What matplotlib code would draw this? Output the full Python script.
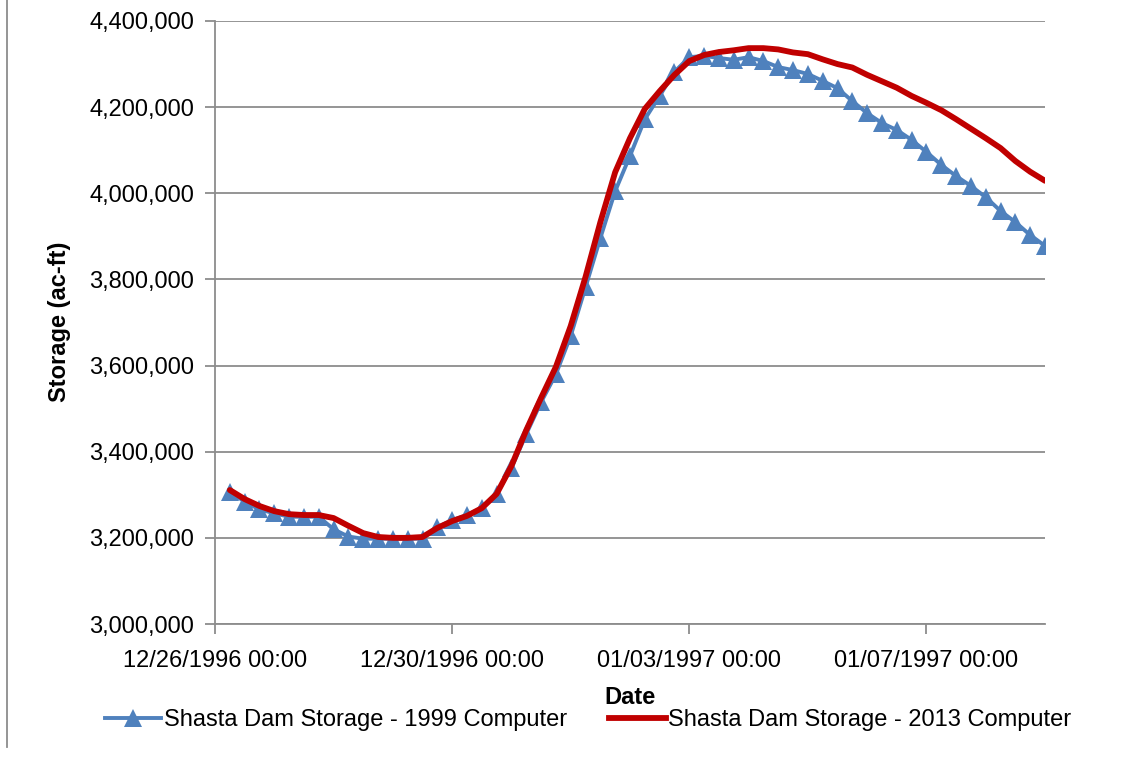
import matplotlib
matplotlib.use('Agg')
import matplotlib.pyplot as plt
import matplotlib.dates as mdates
import pandas as pd
from matplotlib.lines import Line2D

plt.rcParams['font.family'] = ['Liberation Sans Narrow', 'Liberation Sans', 'DejaVu Sans']

# 6-hourly readings, 12/26/1996 06:00 .. 01/09/1997 00:00
times = pd.date_range('1996-12-26 06:00', periods=56, freq='6h')

storage_1999 = [
    3307000, 3284000, 3266000, 3257000, 3249000, 3249000, 3249000, 3220000,
    3203000, 3198000, 3198000, 3198000, 3198000, 3198000, 3225000, 3241000,
    3253000, 3269000, 3302000, 3362000, 3441000, 3515000, 3580000, 3669000,
    3782000, 3896000, 4005000, 4087000, 4172000, 4226000, 4282000, 4316000,
    4319000, 4314000, 4310000, 4316000, 4307000, 4293000, 4286000, 4277000,
    4261000, 4244000, 4214000, 4186000, 4163000, 4147000, 4124000, 4096000,
    4066000, 4040000, 4017000, 3991000, 3959000, 3933000, 3903000, 3878000,
]

storage_2013 = [
    3311000, 3290000, 3274000, 3262000, 3255000, 3253000, 3253000, 3246000,
    3228000, 3211000, 3202000, 3200000, 3200000, 3202000, 3223000, 3239000,
    3251000, 3269000, 3302000, 3367000, 3450000, 3525000, 3597000, 3692000,
    3806000, 3933000, 4049000, 4128000, 4196000, 4237000, 4275000, 4307000,
    4321000, 4328000, 4332000, 4337000, 4337000, 4334000, 4327000, 4323000,
    4311000, 4300000, 4292000, 4275000, 4260000, 4245000, 4226000, 4210000,
    4193000, 4172000, 4150000, 4128000, 4105000, 4075000, 4050000, 4029000,
]

blue = '#4F81BD'
red = '#C00000'
fs = 17

fig = plt.figure(figsize=(11.47, 7.57), dpi=100)
ax = fig.add_axes([215/1147, 1-624/757, (1045-215)/1147, (624-21)/757])

ax.plot(times, storage_1999, color=blue, lw=2.8, marker='^', markersize=13,
        markeredgewidth=0, zorder=3)
ax.plot(times, storage_2013, color=red, lw=4.2, solid_joinstyle='round',
        solid_capstyle='round', zorder=4)

ax.set_xlim(pd.Timestamp('1996-12-26'), pd.Timestamp('1997-01-09'))
ax.set_ylim(3000000, 4400000)
ax.set_yticks(range(3000000, 4400001, 200000))
ax.yaxis.set_major_formatter(matplotlib.ticker.FuncFormatter(lambda v, p: f'{int(v):,}'))
ax.set_xticks(pd.date_range('1996-12-26', periods=4, freq='4D'))
ax.xaxis.set_major_formatter(mdates.DateFormatter('%m/%d/%Y %H:%M'))

ax.grid(axis='y', color='#8c8c8c', lw=1.3)
ax.set_axisbelow(True)
for s in ['top', 'right']:
    ax.spines[s].set_visible(False)
ax.spines['left'].set_color('#8c8c8c')
ax.spines['bottom'].set_color('#8c8c8c')
ax.spines['left'].set_linewidth(1.3)
ax.spines['bottom'].set_linewidth(1.3)
ax.tick_params(axis='both', colors='#8c8c8c', labelcolor='black', labelsize=fs,
               length=7, width=1.3)
ax.tick_params(axis='x', pad=12)
ax.tick_params(axis='y', pad=8)

fig.text(60/1147, 1-322/757, 'Storage (ac-ft)', rotation=90, ha='center',
         va='center', fontsize=fs, fontweight='bold')
fig.text(630/1147, 1-697/757, 'Date', ha='center', va='center',
         fontsize=fs, fontweight='bold')

handles = [
    Line2D([], [], color=blue, lw=2.8, marker='^', markersize=13, markeredgewidth=0),
    Line2D([], [], color=red, lw=4.2),
]
fig.legend(handles, ['Shasta Dam Storage - 1999 Computer', 'Shasta Dam Storage - 2013 Computer'],
           loc='center', bbox_to_anchor=(588/1147, 1-720/757), ncol=2, frameon=False,
           fontsize=fs, handlelength=2.4, handletextpad=0.1, columnspacing=1.8)

fig.add_artist(Line2D([7/1147, 7/1147], [1-747/757, 1], color='#8c8c8c', lw=1.3))

fig.savefig('out.png', dpi=100)
